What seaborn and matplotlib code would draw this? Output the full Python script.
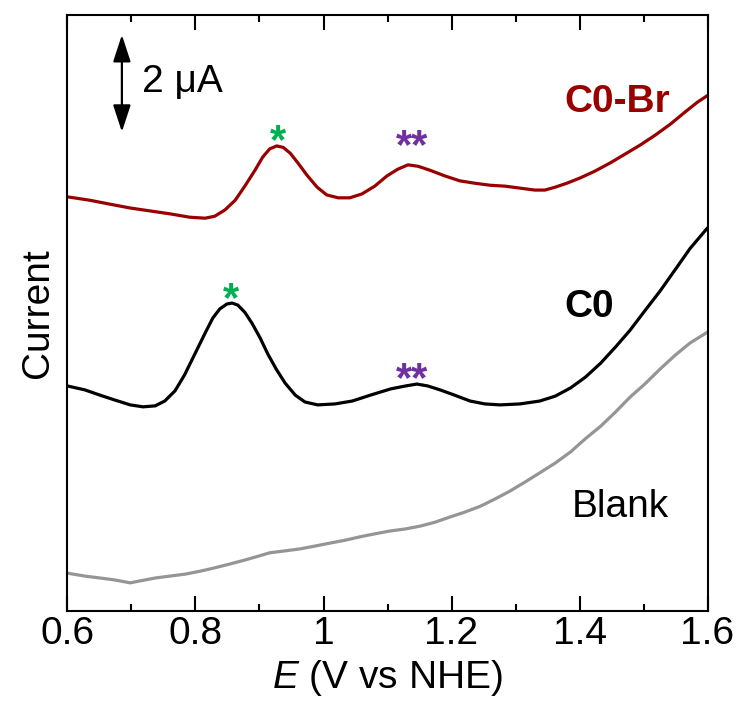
import matplotlib
matplotlib.use("Agg")
import matplotlib.pyplot as plt
import seaborn as sns
import pandas as pd
from matplotlib.ticker import MultipleLocator

# ---------------- data (E in V vs NHE, current in uA, offset stacked) ----------------
E_br = [0.600, 0.635, 0.666, 0.698, 0.729, 0.760, 0.791, 0.815, 0.830, 0.846, 0.862,
        0.877, 0.893, 0.905, 0.916, 0.927, 0.937, 0.948, 0.960, 0.974, 0.990, 1.005,
        1.023, 1.041, 1.060, 1.080, 1.099, 1.116, 1.132, 1.148, 1.166, 1.190, 1.213,
        1.237, 1.260, 1.284, 1.307, 1.330, 1.346, 1.362, 1.380, 1.401, 1.424, 1.448,
        1.471, 1.495, 1.518, 1.542, 1.565, 1.584, 1.600]
I_br = [8.53, 8.46, 8.38, 8.30, 8.24, 8.18, 8.11, 8.09, 8.13, 8.26, 8.46,
        8.75, 9.08, 9.35, 9.52, 9.58, 9.55, 9.43, 9.23, 8.98, 8.73, 8.57,
        8.51, 8.51, 8.59, 8.75, 8.96, 9.10, 9.19, 9.16, 9.08, 8.96, 8.86,
        8.81, 8.77, 8.75, 8.71, 8.67, 8.67, 8.73, 8.81, 8.92, 9.06, 9.23,
        9.41, 9.60, 9.80, 10.03, 10.28, 10.48, 10.62]

E_c0 = [0.600, 0.627, 0.651, 0.674, 0.698, 0.718, 0.737, 0.752, 0.768, 0.783, 0.799,
        0.815, 0.827, 0.838, 0.849, 0.857, 0.866, 0.877, 0.888, 0.901, 0.913, 0.926,
        0.940, 0.956, 0.971, 0.991, 1.018, 1.045, 1.073, 1.105, 1.128, 1.146, 1.163,
        1.182, 1.205, 1.229, 1.252, 1.276, 1.307, 1.338, 1.362, 1.386, 1.409, 1.433,
        1.456, 1.479, 1.502, 1.526, 1.549, 1.573, 1.600]
I_c0 = [4.63, 4.55, 4.44, 4.34, 4.24, 4.20, 4.22, 4.32, 4.53, 4.86, 5.29,
        5.72, 6.03, 6.22, 6.32, 6.34, 6.30, 6.15, 5.93, 5.62, 5.29, 4.98,
        4.69, 4.44, 4.30, 4.24, 4.26, 4.32, 4.44, 4.57, 4.63, 4.67, 4.63,
        4.55, 4.44, 4.32, 4.26, 4.24, 4.26, 4.32, 4.42, 4.59, 4.81, 5.10,
        5.43, 5.78, 6.18, 6.59, 7.02, 7.47, 7.89]

E_blank = [0.600, 0.627, 0.651, 0.674, 0.698, 0.713, 0.737, 0.760, 0.784, 0.807, 0.830,
           0.854, 0.877, 0.898, 0.916, 0.940, 0.963, 0.987, 1.010, 1.034, 1.057, 1.080,
           1.104, 1.127, 1.151, 1.174, 1.198, 1.221, 1.245, 1.268, 1.291, 1.315, 1.338,
           1.362, 1.386, 1.409, 1.433, 1.456, 1.479, 1.502, 1.526, 1.549, 1.573, 1.600]
I_blank = [0.77, 0.71, 0.67, 0.63, 0.57, 0.61, 0.67, 0.71, 0.75, 0.81, 0.88,
           0.96, 1.04, 1.12, 1.19, 1.23, 1.27, 1.33, 1.39, 1.45, 1.52, 1.58,
           1.64, 1.68, 1.74, 1.82, 1.93, 2.03, 2.15, 2.30, 2.46, 2.65, 2.84,
           3.04, 3.27, 3.54, 3.80, 4.09, 4.40, 4.67, 4.98, 5.26, 5.52, 5.74]

x_ticks = [0.6, 0.8, 1.0, 1.2, 1.4, 1.6]
x_tick_labels = ["0.6", "0.8", "1", "1.2", "1.4", "1.6"]

series_names = ["C0-Br", "C0", "Blank"]
series_colors = ["#990000", "#000000", "#959595"]
label_colors = ["#990000", "#000000", "#000000"]
label_pos = [(1.377, 10.28), (1.377, 6.06), (1.388, 1.93)]
label_weight = ["bold", "bold", "normal"]

# peak markers
star_E = [0.929, 1.138, 0.855, 1.138]
star_I = [9.43, 9.33, 6.18, 4.53]
star_txt = ["*", "**", "*", "**"]
star_col = ["#00B050", "#7030A0", "#00B050", "#7030A0"]

scale_E = 0.685
scale_I = [9.87, 11.87]
scale_text = "2 μA"

# ---------------- plotting ----------------
sns.set_theme(style="ticks")
plt.rcParams['font.family'] = ['Liberation Sans', 'DejaVu Sans']
plt.rcParams['mathtext.fontset'] = 'custom'
plt.rcParams['mathtext.rm'] = 'Liberation Sans'
plt.rcParams['mathtext.it'] = 'Liberation Sans:italic'
plt.rcParams['text.color'] = 'black'
plt.rcParams['axes.labelcolor'] = 'black'
plt.rcParams['xtick.color'] = 'black'
plt.rcParams['xtick.labelcolor'] = 'black'

fig = plt.figure(figsize=(7.36, 7.04), dpi=100)
ax = fig.add_axes([0.0917, 0.1328, 0.8696, 0.8452])

frames = []
for name, E, I in zip(series_names, [E_br, E_c0, E_blank], [I_br, I_c0, I_blank]):
    frames.append(pd.DataFrame({"E": E, "I": I, "sample": name}))
df = pd.concat(frames, ignore_index=True)

sns.lineplot(data=df, x="E", y="I", hue="sample", palette=dict(zip(series_names, series_colors)),
             estimator=None, sort=False, linewidth=2.3, legend=False, ax=ax)
for ln in ax.get_lines():
    ln.set_solid_joinstyle("round")

for name, col, (lx, ly), w in zip(series_names, label_colors, label_pos, label_weight):
    ax.text(lx, ly, name, color=col, fontsize=28, fontweight=w, ha="left", va="baseline")

for e, i, t, c in zip(star_E, star_I, star_txt, star_col):
    ax.text(e, i, t, color=c, fontsize=30, fontweight="bold", ha="center", va="baseline")

ax.annotate("", xy=(scale_E, scale_I[1]), xytext=(scale_E, scale_I[0]),
            arrowprops=dict(arrowstyle="<|-|>,head_length=1.1,head_width=0.36",
                            color="black", lw=1.6, mutation_scale=15,
                            shrinkA=0, shrinkB=0))
ax.text(0.716, 10.69, scale_text, fontsize=28, ha="left", va="baseline", color="black")

ax.set_xlim(0.6, 1.6)
ax.set_ylim(0, 12.27)
ax.set_xticks(x_ticks)
ax.set_xticklabels(x_tick_labels)
ax.xaxis.set_minor_locator(MultipleLocator(0.1))
ax.set_yticks([])
ax.tick_params(axis="x", which="both", direction="in", top=True, bottom=True,
               labelsize=28, pad=4, color="black", labelcolor="black", width=1.5)
ax.tick_params(axis="x", which="major", length=11)
ax.tick_params(axis="x", which="minor", length=5)
for s in ax.spines.values():
    s.set_visible(True)
    s.set_color("black")
    s.set_linewidth(1.5)

ax.set_xlabel(r"$\mathit{E}$ (V vs NHE)", fontsize=28, labelpad=4, color="black")
ax.set_ylabel("Current", fontsize=28, labelpad=8, color="black")

fig.savefig("out.png", dpi=100)
